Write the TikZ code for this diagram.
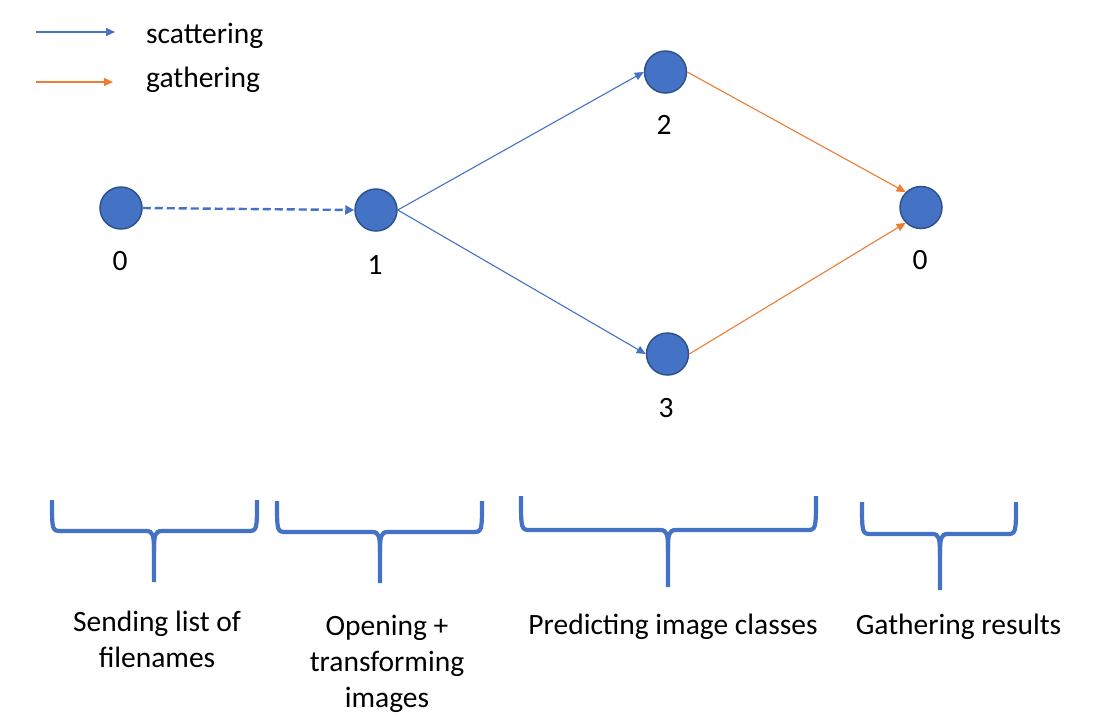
\documentclass[tikz,border=0pt]{standalone}
\usepackage{fontspec}
\setmainfont{Carlito}
\usetikzlibrary{arrows.meta}
\definecolor{nodeblue}{HTML}{4472C4}
\definecolor{nodeedge}{HTML}{2F528F}
\definecolor{gorange}{HTML}{ED7D31}
\tikzset{
  proc/.style={circle, minimum size=42, inner sep=0, fill=nodeblue, draw=nodeedge, line width=1.5},
  lbl/.style={inner sep=0, anchor=base, font=\fontsize{29.5}{36}\selectfont},
  mlbl/.style={inner sep=0, anchor=base, align=center, font=\fontsize{29.5}{36}\selectfont},
  tip/.style={-{Triangle[length=9,width=8]}},
  scat/.style={tip, draw=nodeblue, line width=1.1},
  gath/.style={tip, draw=gorange, line width=1.1},
  sendarrow/.style={-{Triangle[length=9,width=9]}, draw=nodeblue, line width=2.4, dash pattern=on 8 off 4},
  bracestyle/.style={draw=nodeblue, line width=4.2, line cap=butt}
}
\newcommand{\mybrace}[6]{% L R top H M B
  \draw[bracestyle] (#1,#3) .. controls (#1,#4) and (#1,#4) .. (#1+10,#4) -- (#5-8,#4)
    .. controls (#5-1,#4) and (#5,#4+4) .. (#5,#4+20) -- (#5,#6);
  \draw[bracestyle] (#2,#3) .. controls (#2,#4) and (#2,#4) .. (#2-10,#4) -- (#5+8,#4)
    .. controls (#5+1,#4) and (#5,#4+4) .. (#5,#4+20);
}
\begin{document}
\begin{tikzpicture}[x=1pt,y=-1pt]
\useasboundingbox[fill=white] (0,0) rectangle (1100,724);
% legend
\coordinate (ls0) at (36,32);
\coordinate (ls1) at (115,32);
\coordinate (lg0) at (36,82);
\coordinate (lg1) at (113,82);
\draw[scat] (ls0) -- (ls1);
\draw[gath] (lg0) -- (lg1);
\node[lbl, anchor=base west] (tscat) at (146,43) {scattering};
\node[lbl, anchor=base west] (tgath) at (146,87) {gathering};
% nodes
\node[proc] (n0) at (121,208) {};
\node[proc] (n1) at (376,210) {};
\node[proc] (n2) at (665.5,72) {};
\node[proc] (n3) at (667.5,354) {};
\node[proc] (n0b) at (921,207.5) {};
\node[lbl] (t0) at (120,270) {0};
\node[lbl] (t1) at (375,274) {1};
\node[lbl] (t2) at (664,134) {2};
\node[lbl] (t3) at (666,417) {3};
\node[lbl] (t0b) at (920,269) {0};
% edges
\draw[sendarrow] (n0.east) -- (n1.west);
\draw[scat] (n1.east) -- (n2.west);
\draw[scat] (n1.east) -- (n3.west);
\draw[gath] (n2.east) -- (n0b.north west);
\draw[gath] (n3.east) -- (n0b.south west);
% braces
\mybrace{52}{257}{500}{531}{154}{582}
\mybrace{277}{482}{501}{532}{380}{583}
\mybrace{521}{816}{496}{530}{668}{587}
\mybrace{862}{1016}{502}{534}{940}{590}
% captions
\node[mlbl] (c1) at (157,667) {Sending list of\\filenames};
\node[mlbl] (c2) at (387,707) {Opening +\\transforming\\images};
\node[lbl] (c3) at (673,634) {Predicting image classes};
\node[lbl] (c4) at (958.5,634) {Gathering results};
\end{tikzpicture}
\end{document}
